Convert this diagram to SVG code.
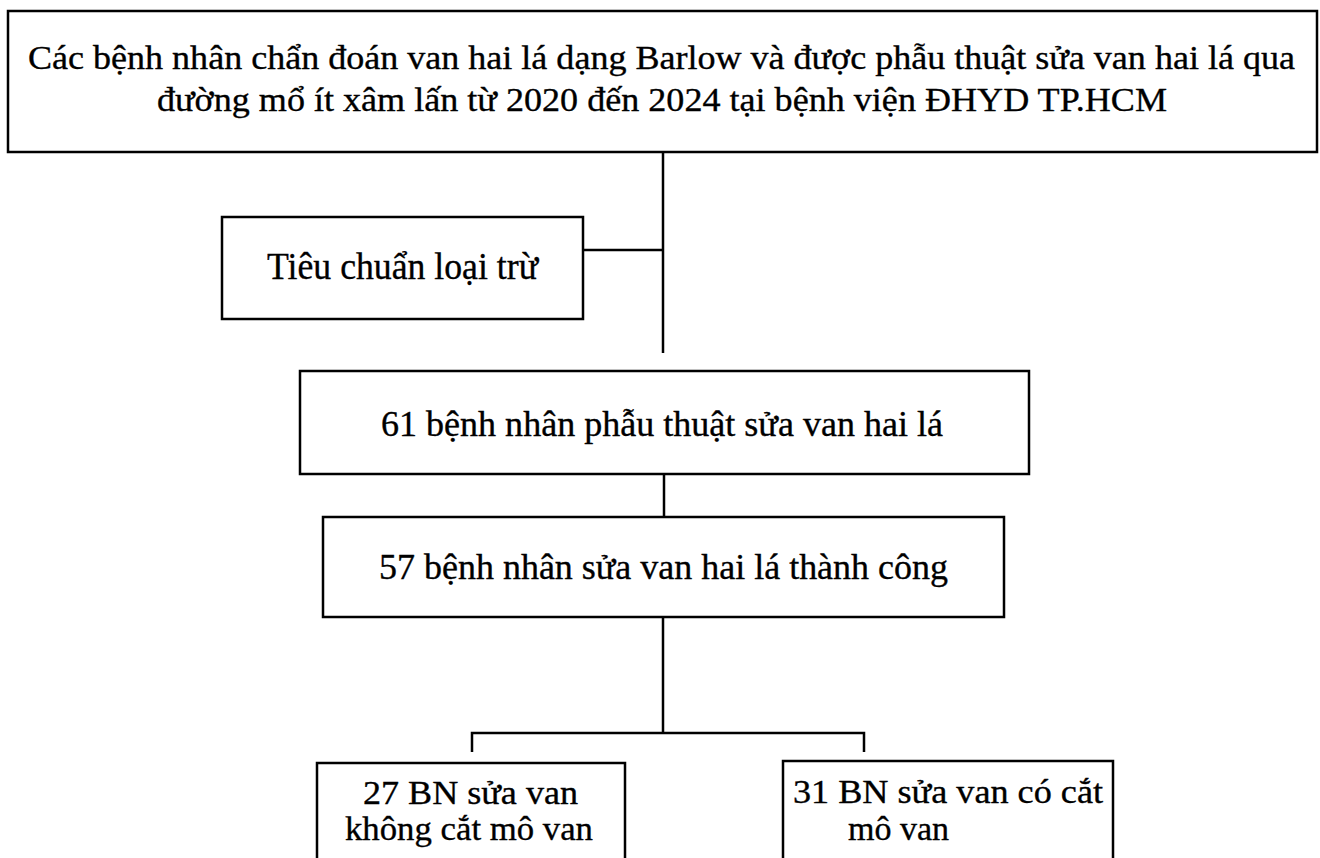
<svg xmlns="http://www.w3.org/2000/svg" width="1320" height="858" viewBox="0 0 1320 858">
  <style>
    .box { fill: #ffffff; stroke: #000000; stroke-width: 2.5; }
    .t { font-family: "Liberation Serif", "Times New Roman", serif; fill: #000000; stroke: #000000; stroke-width: 0.35; }
    .conn { stroke: #000000; stroke-width: 2.5; fill: none; }
  </style>
  <rect x="0" y="0" width="1320" height="858" fill="#ffffff"/>
  <g id="connectors">
    <line class="conn" x1="663" y1="152" x2="663" y2="353"/>
    <line class="conn" x1="583" y1="250" x2="663" y2="250"/>
    <line class="conn" x1="664" y1="474" x2="664" y2="517"/>
    <line class="conn" x1="663" y1="617" x2="663" y2="733"/>
    <polyline class="conn" points="472,752 472,733 864,733 864,752"/>
  </g>
  <g id="node-top">
    <rect class="box" x="8" y="11" width="1309" height="141"/>
    <text class="t" x="28" y="69" font-size="34.5" textLength="1267" lengthAdjust="spacingAndGlyphs">Các bệnh nhân chẩn đoán van hai lá dạng Barlow và được phẫu thuật sửa van hai lá qua</text>
    <text class="t" x="157" y="111" font-size="34.5" textLength="1010" lengthAdjust="spacingAndGlyphs">đường mổ ít xâm lấn từ 2020 đến 2024 tại bệnh viện ĐHYD TP.HCM</text>
  </g>
  <g id="node-exclusion">
    <rect class="box" x="222" y="217" width="361" height="102"/>
    <text class="t" x="267" y="279" font-size="37" textLength="271" lengthAdjust="spacingAndGlyphs">Tiêu chuẩn loại trừ</text>
  </g>
  <g id="node-61">
    <rect class="box" x="300" y="371" width="729" height="103"/>
    <text class="t" x="381" y="436" font-size="36" textLength="562" lengthAdjust="spacingAndGlyphs">61 bệnh nhân phẫu thuật sửa van hai lá</text>
  </g>
  <g id="node-57">
    <rect class="box" x="323" y="517" width="681" height="100"/>
    <text class="t" x="379" y="579" font-size="36" textLength="569" lengthAdjust="spacingAndGlyphs">57 bệnh nhân sửa van hai lá thành công</text>
  </g>
  <g id="node-27">
    <rect class="box" x="317" y="763" width="308" height="110"/>
    <text class="t" x="363" y="804" font-size="34" textLength="215" lengthAdjust="spacingAndGlyphs">27 BN sửa van</text>
    <text class="t" x="345" y="840" font-size="34" textLength="248" lengthAdjust="spacingAndGlyphs">không cắt mô van</text>
  </g>
  <g id="node-31">
    <rect class="box" x="783" y="761" width="330" height="112"/>
    <text class="t" x="793" y="803" font-size="34" textLength="310" lengthAdjust="spacingAndGlyphs">31 BN sửa van có cắt</text>
    <text class="t" x="848" y="840" font-size="34">mô van</text>
  </g>
</svg>
